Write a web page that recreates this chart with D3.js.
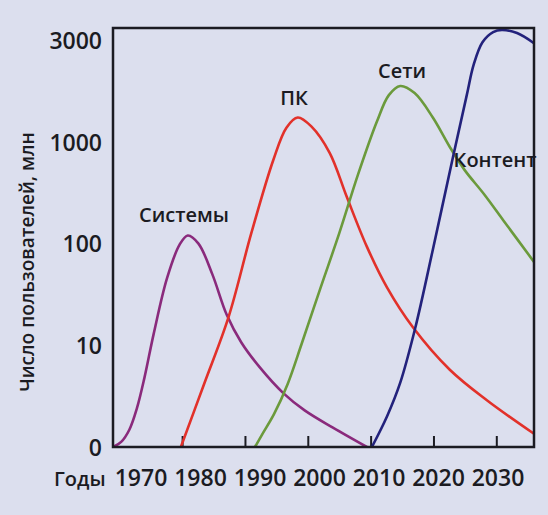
<!DOCTYPE html>
<html>
<head>
<meta charset="utf-8">
<script src="https://cdn.jsdelivr.net/npm/d3@7"></script>
<style>
    body { margin: 0; background: #dcdfee; }
    svg text { font-family: "Open Sans", sans-serif; font-weight: 600; fill: #1b1b22; }
</style>
</head>
<body>
<div id="chart"></div>
<script>
// values: [year, level], level 0..4 = 0, 10, 100, 1000, 3000
const seriesNames = ["Системы", "ПК", "Сети", "Контент"];
const yTickLabels = ["0", "10", "100", "1000", "3000"];
const xTickLabels = ["1970", "1980", "1990", "2000", "2010", "2020", "2030"];
const xTickYears = [1980, 1990, 2000, 2010, 2020, 2030];

const systemsData = [
    [1969.0, 0], [1970.3, 0.05], [1971.6, 0.17], [1972.8, 0.38], [1974.0, 0.68],
    [1975.5, 1.12], [1977.6, 1.66], [1979.6, 1.99], [1980.9, 2.08], [1982.6, 2.0],
    [1984.8, 1.7], [1987.1, 1.3], [1989.4, 1.03], [1992.4, 0.78], [1996.1, 0.53],
    [1999.5, 0.36], [2004.0, 0.19], [2009.4, 0]
];
const pcData = [
    [1979.8, 0], [1983.5, 0.62], [1987.4, 1.28], [1991.0, 2.1], [1994.5, 2.82],
    [1996.6, 3.14], [1998.4, 3.24], [2000.6, 3.15], [2003.5, 2.89], [2006.2, 2.46],
    [2009.4, 1.97], [2012.6, 1.57], [2016.7, 1.18], [2022.6, 0.76], [2028.5, 0.46],
    [2036.0, 0.13]
];
const networksData = [
    [1991.6, 0], [1992.7, 0.12], [1994.6, 0.32], [1996.8, 0.62], [1999.0, 1.01],
    [2002.0, 1.56], [2005.0, 2.1], [2008.0, 2.68], [2011.0, 3.2], [2012.9, 3.46],
    [2014.7, 3.55], [2017.0, 3.48], [2019.9, 3.24], [2022.6, 2.95], [2025.0, 2.72],
    [2028.0, 2.49], [2031.1, 2.23], [2036.0, 1.82]
];
const contentData = [
    [2010.2, 0], [2012.6, 0.3], [2014.7, 0.63], [2017.1, 1.17], [2019.9, 1.94],
    [2023.1, 2.85], [2025.3, 3.46], [2026.4, 3.76], [2027.8, 3.98], [2029.5, 4.08],
    [2030.9, 4.1], [2033.3, 4.07], [2036.0, 3.97]
];

const allSeries = [systemsData, pcData, networksData, contentData];
const colors = ["#8a2a7c", "#e2312a", "#6b9a3c", "#23227c"];
// where each series name sits, in [year, level]
const labelSpots = [[1980.3, 2.21], [1997.8, 3.36], [2015.0, 3.63], [2029.8, 2.75]];

const width = 548, height = 515;
const margin = {top: 28, right: 14, bottom: 68, left: 113};

const x = d3.scaleLinear()
    .domain([1969, 2036])
    .range([margin.left, width - margin.right]);

const y = d3.scaleLinear()
    .domain([0, 4.12])
    .range([height - margin.bottom, margin.top]);

const svg = d3.select("#chart")
    .append("svg")
    .attr("width", width)
    .attr("height", height);

svg.append("rect")
    .attr("width", width)
    .attr("height", height)
    .attr("fill", "#dcdfee");

svg.append("clipPath")
    .attr("id", "plot-clip")
    .append("rect")
    .attr("x", margin.left)
    .attr("y", margin.top)
    .attr("width", width - margin.left - margin.right)
    .attr("height", height - margin.top - margin.bottom);

// y labels, no tick marks
let yAxis = svg.append("g")
    .attr("transform", "translate(" + margin.left + ",0)")
    .call(d3.axisLeft(y)
        .tickValues([0, 1, 2, 3, 4])
        .tickFormat(function (d) { return yTickLabels[d]; })
        .tickSize(0)
        .tickPadding(11));
yAxis.select(".domain").remove();
yAxis.selectAll("text")
    .attr("font-size", 23)
    .attr("dy", "0.36em");

// x ticks point up into the plot
let xAxis = svg.append("g")
    .attr("transform", "translate(0," + (height - margin.bottom) + ")")
    .call(d3.axisBottom(x)
        .tickValues(xTickYears)
        .tickSize(-11)
        .tickFormat(""));
xAxis.select(".domain").remove();
xAxis.selectAll("line")
    .attr("stroke", "#1b1b22")
    .attr("stroke-width", 2);

// year labels are spread evenly, not under the ticks
let xLabelPos = d3.scalePoint()
    .domain(xTickLabels)
    .range([141, 498]);

svg.append("g")
    .selectAll("text")
    .data(xTickLabels)
    .join("text")
    .attr("x", function (d) { return xLabelPos(d); })
    .attr("y", 486)
    .attr("text-anchor", "middle")
    .attr("font-size", 23)
    .text(function (d) { return d; });

svg.append("text")
    .attr("x", 54)
    .attr("y", 486)
    .attr("font-size", 20)
    .text("Годы");

svg.append("text")
    .attr("transform", "translate(34,262) rotate(-90)")
    .attr("text-anchor", "middle")
    .attr("font-size", 19)
    .text("Число пользователей, млн");

let line = d3.line()
    .x(function (d) { return x(d[0]); })
    .y(function (d) { return y(d[1]); })
    .curve(d3.curveCatmullRom.alpha(0.5));

svg.append("g")
    .attr("clip-path", "url(#plot-clip)")
    .selectAll("path")
    .data(allSeries)
    .join("path")
    .attr("fill", "none")
    .attr("stroke", function (d, i) { return colors[i]; })
    .attr("stroke-width", 2.6)
    .attr("stroke-linejoin", "round")
    .attr("stroke-linecap", "round")
    .attr("d", line);

svg.append("g")
    .selectAll("text")
    .data(seriesNames)
    .join("text")
    .attr("x", function (d, i) { return x(labelSpots[i][0]); })
    .attr("y", function (d, i) { return y(labelSpots[i][1]); })
    .attr("text-anchor", "middle")
    .attr("font-size", 20)
    .text(function (d) { return d; });

// frame
svg.append("rect")
    .attr("x", margin.left)
    .attr("y", margin.top)
    .attr("width", width - margin.left - margin.right)
    .attr("height", height - margin.top - margin.bottom)
    .attr("fill", "none")
    .attr("stroke", "#1b1b22")
    .attr("stroke-width", 2.5);
</script>
</body>
</html>
